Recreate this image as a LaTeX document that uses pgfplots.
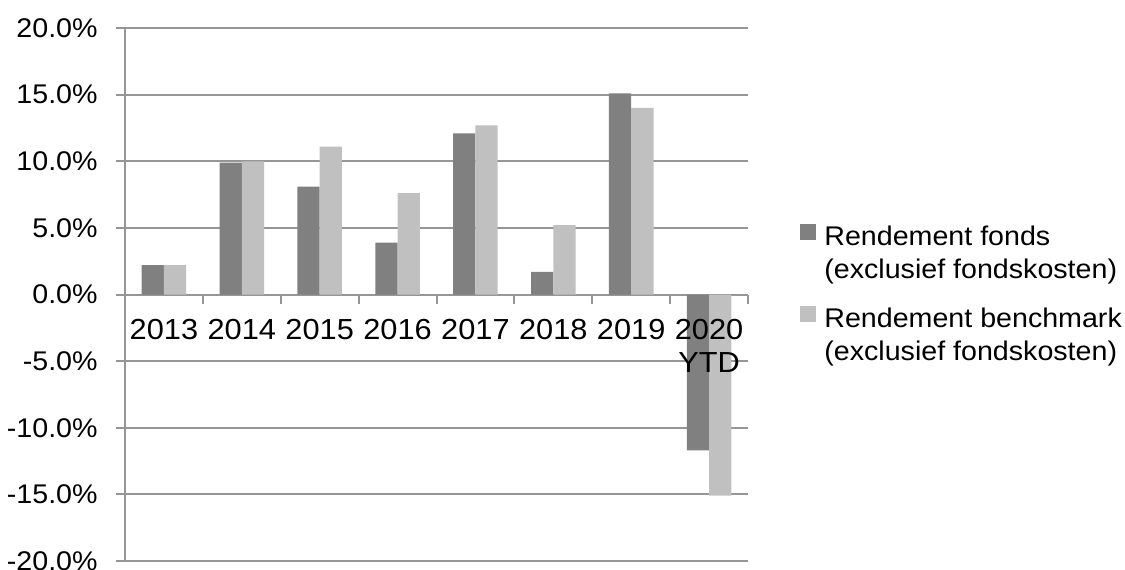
\documentclass[border=0pt]{standalone}
\usepackage{fontspec}
\setmainfont{Liberation Sans}[FakeStretch=1.06]
\usepackage{pgfplots}
\pgfplotsset{compat=1.18}
\definecolor{fonds}{HTML}{808080}
\definecolor{bench}{HTML}{C0C0C0}
\definecolor{gridc}{HTML}{969696}
\newcommand{\chartfont}{\fontsize{13.5}{16.5}\selectfont}
\newcommand{\yearfont}{\fontsize{14.5}{16.5}\selectfont}

\begin{document}
\begin{tikzpicture}
\begin{axis}[
  name=ax,
  scale only axis,
  width=311.5pt, height=266.5pt,
  ybar=0pt, bar width=0.2865,
  xmin=-0.5, xmax=7.5, ymin=-20, ymax=20,
  axis y line=left, axis x line=middle,
  axis line style={-, draw=gridc, line width=1pt},
  ytick={-20,-15,...,20},
  yticklabels={-20.0\%,-15.0\%,-10.0\%,-5.0\%,0.0\%,5.0\%,10.0\%,15.0\%,20.0\%},
  ymajorgrids, grid style={gridc, line width=1pt},
  tick align=outside, major tick length=4.5pt,
  tick style={gridc, line width=1pt},
  xtick={-0.5,0.5,...,7.5}, xticklabels={,,,,,,,,},
  extra x ticks={0,1,2,3,4,5,6},
  extra x tick labels={2013,2014,2015,2016,2017,2018,2019},
  extra x tick style={major tick length=0pt},
  xticklabel style={font=\yearfont, align=center, anchor=north, inner sep=0pt, yshift=-12pt},
  yticklabel style={font=\chartfont, anchor=east, inner sep=0pt, xshift=-9pt},
  legend style={at={(1,0.5)}, anchor=west, xshift=26pt, yshift=9pt, draw=none, fill=none,
    font=\chartfont, column sep=2pt, row sep=24pt,
    cells={anchor=base west}, inner sep=0pt},
]
\addplot[fill=fonds, draw=none,
  legend image code/.code={\fill[fonds] (0pt,3pt) rectangle (8pt,11pt);}]
  coordinates {(0,2.2) (1,9.9) (2,8.1) (3,3.9) (4,12.1) (5,1.7) (6,15.1) (7,-11.7)};
\addlegendentry{\begin{tabular}[t]{@{}l@{}}Rendement fonds\\(exclusief fondskosten)\end{tabular}}
\addplot[fill=bench, draw=none,
  legend image code/.code={\fill[bench] (0pt,3pt) rectangle (8pt,11pt);}]
  coordinates {(0,2.2) (1,10.0) (2,11.1) (3,7.6) (4,12.7) (5,5.2) (6,14.0) (7,-15.1)};
\addlegendentry{\begin{tabular}[t]{@{}l@{}}Rendement benchmark\\(exclusief fondskosten)\end{tabular}}
% last category label, drawn after the bars so it stays on top of them
\node[font=\yearfont, align=center, anchor=north, inner sep=0pt, yshift=-12pt]
  at (axis cs:7,0) {2020\\YTD};
\end{axis}
\pgfresetboundingbox
\useasboundingbox ([shift={(-62.5pt,-4pt)}]ax.south west) rectangle ([shift={(500pt,280.5pt)}]ax.south west);
\end{tikzpicture}
\end{document}
